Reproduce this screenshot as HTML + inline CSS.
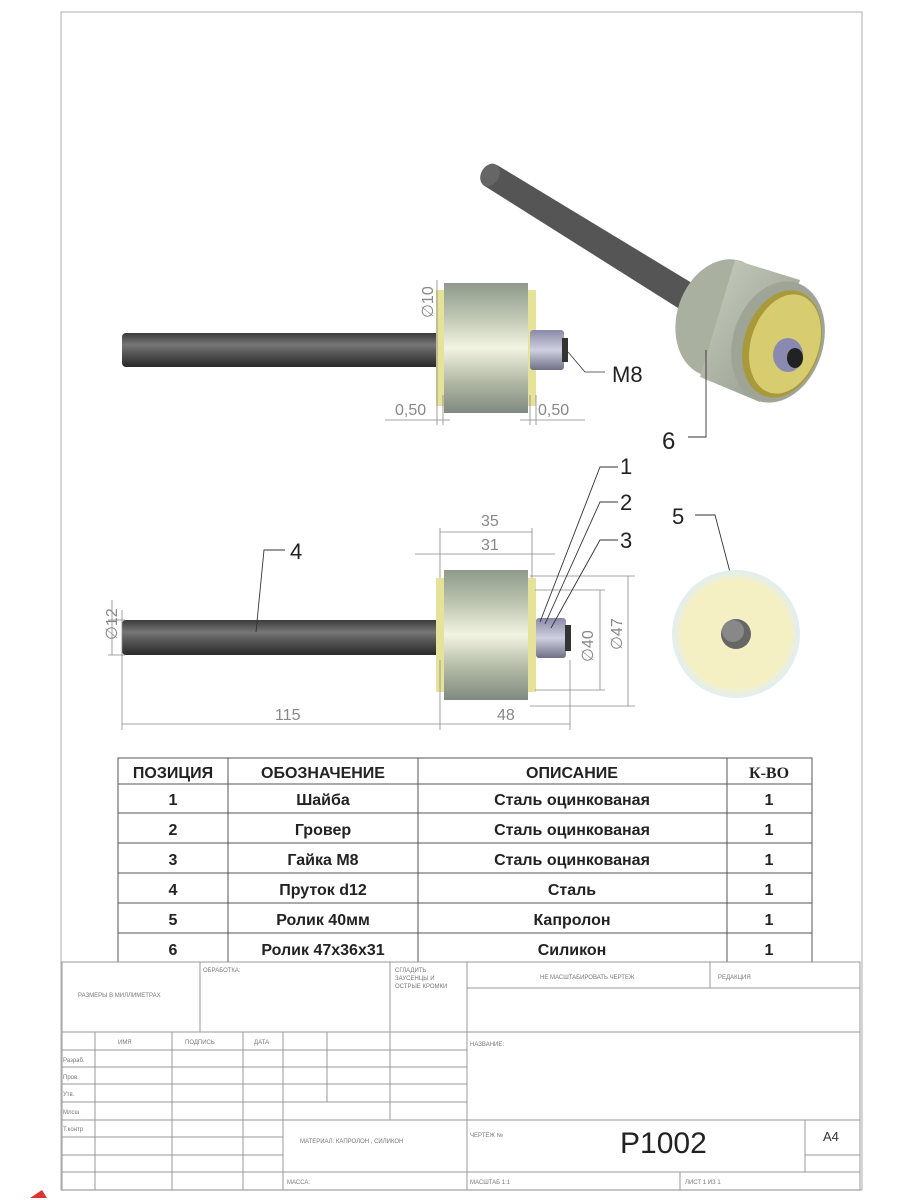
<!DOCTYPE html>
<html><head><meta charset="utf-8"><style>
body{margin:0;background:#fff}
svg{display:block}
text{font-family:"Liberation Sans",sans-serif}
</style></head><body>
<svg width="900" height="1200" viewBox="0 0 900 1200" xmlns="http://www.w3.org/2000/svg">
<defs>
<linearGradient id="rod" x1="0" y1="0" x2="0" y2="1">
<stop offset="0" stop-color="#3a3a3a"/><stop offset="0.35" stop-color="#777"/><stop offset="0.6" stop-color="#555"/><stop offset="1" stop-color="#2a2a2a"/></linearGradient>
<linearGradient id="rol" x1="0" y1="0" x2="0" y2="1">
<stop offset="0" stop-color="#8f9a8c"/><stop offset="0.25" stop-color="#bcc4b0"/><stop offset="0.5" stop-color="#f2f4e2"/><stop offset="0.75" stop-color="#b3baa6"/><stop offset="1" stop-color="#7f8a80"/></linearGradient>
<linearGradient id="nut" x1="0" y1="0" x2="0" y2="1">
<stop offset="0" stop-color="#8a8aa8"/><stop offset="0.5" stop-color="#d0d0e0"/><stop offset="1" stop-color="#6f6f88"/></linearGradient>
<linearGradient id="iso" x1="0" y1="0" x2="1" y2="1">
<stop offset="0" stop-color="#c9cfc0"/><stop offset="1" stop-color="#8e9688"/></linearGradient>
<radialGradient id="halo"><stop offset="0.85" stop-color="#f4f0c8"/><stop offset="1" stop-color="#e0eef4"/></radialGradient>
</defs>
<rect x="61" y="12" width="801" height="1178" fill="none" stroke="#bbb" stroke-width="1.2"/>

<!-- TOP VIEW -->
<rect x="122" y="333" width="320" height="34" rx="4" fill="url(#rod)"/>
<rect x="436" y="290" width="100" height="116" fill="#e6e29a"/>
<rect x="444" y="283" width="84" height="130" fill="url(#rol)"/>
<rect x="530" y="330" width="34" height="40" rx="3" fill="url(#nut)"/>
<rect x="562" y="338" width="6" height="24" fill="#333"/>
<g stroke="#888" stroke-width="0.8" fill="none">
<line x1="437" y1="280" x2="437" y2="425"/><line x1="443" y1="395" x2="443" y2="425"/>
<line x1="385" y1="420" x2="450" y2="420"/>
<line x1="530" y1="395" x2="530" y2="425"/><line x1="536" y1="395" x2="536" y2="425"/>
<line x1="520" y1="420" x2="585" y2="420"/>
<polyline points="568,352 585,372 605,372" stroke="#333"/>
</g>
<text x="395" y="415" font-size="16" fill="#888">0,50</text>
<text x="538" y="415" font-size="16" fill="#888">0,50</text>
<text font-size="16" fill="#888" transform="translate(433,318) rotate(-90)">∅10</text>
<text x="612" y="382" font-size="22" fill="#222">M8</text>

<!-- ISO VIEW -->
<path d="M483,185 L497,165 L720,300 L705,325 Z" fill="#555"/>
<ellipse cx="490" cy="175" rx="9" ry="12" transform="rotate(30 490 175)" fill="#666"/>
<ellipse cx="722" cy="318" rx="45" ry="60" transform="rotate(18 722 318)" fill="#a9b0a0"/>
<polygon points="735,260 800,280 760,402 700,377" fill="url(#iso)"/>
<ellipse cx="778" cy="342" rx="45" ry="62" transform="rotate(18 778 342)" fill="#9ea596"/>
<ellipse cx="782" cy="344" rx="38" ry="55" transform="rotate(18 782 344)" fill="#a89a3a"/>
<ellipse cx="785" cy="344" rx="34" ry="51" transform="rotate(18 785 344)" fill="#d8cc70"/>
<ellipse cx="788" cy="355" rx="15" ry="17" fill="#8a8ab0"/>
<ellipse cx="795" cy="358" rx="8" ry="10" fill="#222"/>
<polyline points="706,350 706,437 688,437" stroke="#333" stroke-width="0.9" fill="none"/>
<text x="662" y="449" font-size="24" fill="#222">6</text>

<!-- FRONT VIEW -->
<rect x="122" y="620" width="320" height="35" rx="4" fill="url(#rod)"/>
<rect x="436" y="578" width="100" height="114" fill="#e6e29a"/>
<rect x="444" y="570" width="84" height="130" fill="url(#rol)"/>
<rect x="536" y="618" width="30" height="40" rx="3" fill="url(#nut)"/>
<rect x="565" y="625" width="6" height="26" fill="#333"/>
<g stroke="#888" stroke-width="0.8" fill="none">
<line x1="122" y1="610" x2="122" y2="730"/><line x1="440" y1="660" x2="440" y2="730"/>
<line x1="122" y1="724" x2="440" y2="724"/>
<line x1="570" y1="660" x2="570" y2="730"/><line x1="440" y1="724" x2="570" y2="724"/>
<line x1="440" y1="528" x2="440" y2="578"/><line x1="532" y1="528" x2="532" y2="578"/>
<line x1="440" y1="532" x2="532" y2="532"/>
<line x1="415" y1="554" x2="555" y2="554"/>
<line x1="530" y1="576" x2="635" y2="576"/><line x1="535" y1="590" x2="605" y2="590"/>
<line x1="535" y1="690" x2="605" y2="690"/><line x1="530" y1="706" x2="635" y2="706"/>
<line x1="600" y1="590" x2="600" y2="690"/><line x1="628" y1="576" x2="628" y2="706"/>
<line x1="108" y1="620" x2="125" y2="620"/><line x1="108" y1="655" x2="125" y2="655"/>
<line x1="112" y1="600" x2="112" y2="655"/>
</g>
<text x="275" y="720" font-size="16" fill="#888">115</text>
<text x="497" y="720" font-size="16" fill="#888">48</text>
<text x="481" y="526" font-size="16" fill="#888">35</text>
<text x="481" y="550" font-size="16" fill="#888">31</text>
<text font-size="16" fill="#888" transform="translate(593,662) rotate(-90)">∅40</text>
<text font-size="16" fill="#888" transform="translate(622,650) rotate(-90)">∅47</text>
<text font-size="16" fill="#888" transform="translate(117,640) rotate(-90)">∅12</text>
<g stroke="#333" stroke-width="0.9" fill="none">
<polyline points="256,632 264,550 285,550"/>
<polyline points="540,622 600,467 618,467"/>
<polyline points="545,624 600,502 618,502"/>
<polyline points="551,628 600,540 618,540"/>
<polyline points="736,595 715,515 695,515"/>
</g>
<text x="290" y="559" font-size="22" fill="#222">4</text>
<text x="620" y="474" font-size="22" fill="#222">1</text>
<text x="620" y="510" font-size="22" fill="#222">2</text>
<text x="620" y="548" font-size="22" fill="#222">3</text>
<text x="672" y="524" font-size="22" fill="#222">5</text>
<circle cx="736" cy="634" r="64" fill="url(#halo)"/>
<circle cx="736" cy="634" r="55" fill="#f4f0c4"/>
<circle cx="736" cy="634" r="15" fill="#666"/>
<circle cx="733" cy="631" r="11" fill="#888"/>

<!-- PARTS TABLE -->
<g stroke="#555" stroke-width="1" fill="none">
<rect x="118" y="758" width="694" height="204"/>
<line x1="228" y1="758" x2="228" y2="962"/><line x1="418" y1="758" x2="418" y2="962"/><line x1="727" y1="758" x2="727" y2="962"/>
<line x1="118" y1="784" x2="812" y2="784"/><line x1="118" y1="813" x2="812" y2="813"/><line x1="118" y1="843" x2="812" y2="843"/>
<line x1="118" y1="873" x2="812" y2="873"/><line x1="118" y1="903" x2="812" y2="903"/><line x1="118" y1="933" x2="812" y2="933"/>
</g>
<g font-size="16" fill="#222" text-anchor="middle" font-weight="bold">
<text x="173" y="778">ПОЗИЦИЯ</text><text x="323" y="778">ОБОЗНАЧЕНИЕ</text><text x="572" y="778">ОПИСАНИЕ</text><text x="769" y="778" style="font-family:'Liberation Serif',serif">К-ВО</text>
<text x="173" y="805">1</text><text x="323" y="805">Шайба</text><text x="572" y="805">Сталь оцинкованая</text><text x="769" y="805">1</text>
<text x="173" y="835">2</text><text x="323" y="835">Гровер</text><text x="572" y="835">Сталь оцинкованая</text><text x="769" y="835">1</text>
<text x="173" y="865">3</text><text x="323" y="865">Гайка М8</text><text x="572" y="865">Сталь оцинкованая</text><text x="769" y="865">1</text>
<text x="173" y="895">4</text><text x="323" y="895">Пруток d12</text><text x="572" y="895">Сталь</text><text x="769" y="895">1</text>
<text x="173" y="925">5</text><text x="323" y="925">Ролик 40мм</text><text x="572" y="925">Капролон</text><text x="769" y="925">1</text>
<text x="173" y="955">6</text><text x="323" y="955">Ролик 47х36х31</text><text x="572" y="955">Силикон</text><text x="769" y="955">1</text>
</g>

<!-- TITLE BLOCK -->
<g stroke="#999" stroke-width="1" fill="none">
<rect x="62" y="962" width="798" height="228"/>
<line x1="200" y1="962" x2="200" y2="1032"/><line x1="390" y1="962" x2="390" y2="1120"/><line x1="467" y1="962" x2="467" y2="1190"/>
<line x1="710" y1="962" x2="710" y2="988"/><line x1="467" y1="988" x2="860" y2="988"/>
<line x1="62" y1="1032" x2="860" y2="1032"/>
<line x1="62" y1="1050" x2="467" y2="1050"/><line x1="62" y1="1067" x2="467" y2="1067"/><line x1="62" y1="1084" x2="467" y2="1084"/>
<line x1="62" y1="1102" x2="467" y2="1102"/><line x1="62" y1="1120" x2="860" y2="1120"/>
<line x1="62" y1="1137" x2="283" y2="1137"/><line x1="62" y1="1155" x2="283" y2="1155"/><line x1="805" y1="1155" x2="860" y2="1155"/>
<line x1="62" y1="1172" x2="860" y2="1172"/>
<line x1="95" y1="1032" x2="95" y2="1190"/><line x1="172" y1="1032" x2="172" y2="1190"/><line x1="243" y1="1032" x2="243" y2="1190"/>
<line x1="283" y1="1032" x2="283" y2="1190"/><line x1="327" y1="1032" x2="327" y2="1102"/>
<line x1="805" y1="1120" x2="805" y2="1172"/><line x1="680" y1="1172" x2="680" y2="1190"/>
</g>
<g font-size="6" fill="#777">
<text x="78" y="997">РАЗМЕРЫ В МИЛЛИМЕТРАХ</text>
<text x="203" y="972">ОБРАБОТКА:</text>
<text x="395" y="972">СГЛАДИТЬ</text><text x="395" y="980">ЗАУСЕНЦЫ И</text><text x="395" y="988">ОСТРЫЕ КРОМКИ</text>
<text x="540" y="979">НЕ МАСШТАБИРОВАТЬ ЧЕРТЕЖ</text><text x="718" y="979">РЕДАКЦИЯ</text>
<text x="118" y="1044">ИМЯ</text><text x="185" y="1044">ПОДПИСЬ</text><text x="254" y="1044">ДАТА</text>
<text x="470" y="1046">НАЗВАНИЕ:</text>
<text x="63" y="1062">Разраб.</text><text x="63" y="1079">Пров.</text><text x="63" y="1096">Утв.</text><text x="63" y="1114">Млсш</text><text x="63" y="1131">Т.контр</text>
<text x="470" y="1137">ЧЕРТЕЖ №</text>
<text x="300" y="1143">МАТЕРИАЛ: КАПРОЛОН , СИЛИКОН</text>
<text x="287" y="1184">МАССА:</text><text x="470" y="1184">МАСШТАБ 1:1</text><text x="685" y="1184">ЛИСТ 1 ИЗ 1</text>
</g>
<text x="620" y="1153" font-size="30" fill="#222">P1002</text>
<text x="823" y="1141" font-size="13" fill="#333">A4</text>
<path d="M30,1198 L42,1190 L47,1198 Z" fill="#d33"/>
</svg>
</body></html>
